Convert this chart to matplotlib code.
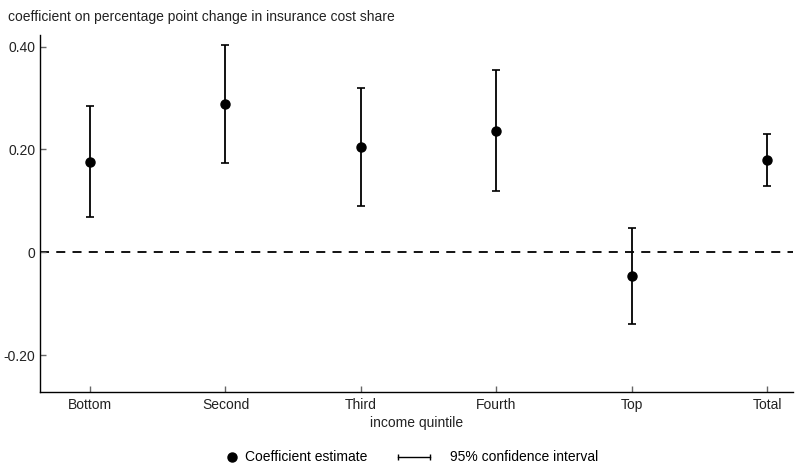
import matplotlib
matplotlib.use("Agg")
import matplotlib.pyplot as plt
from matplotlib.lines import Line2D
from matplotlib.legend_handler import HandlerLine2D

categories = ["Bottom", "Second", "Third", "Fourth", "Top", "Total"]
estimates = [0.175, 0.288, 0.204, 0.236, -0.047, 0.179]
upper = [0.284, 0.403, 0.319, 0.354, 0.047, 0.230]
lower = [0.068, 0.173, 0.090, 0.119, -0.140, 0.129]
yticks = [-0.20, 0, 0.20, 0.40]
ytick_labels = ["-0.20", "0", "0.20", "0.40"]

plt.rcParams['font.family'] = ['Liberation Sans', 'DejaVu Sans']
FS = 10

fig = plt.figure(figsize=(8, 4.73), dpi=100)
ax = fig.add_axes([0.05, 0.1712, 0.941, 0.755])

x = list(range(len(categories)))
err_lo = [e - l for e, l in zip(estimates, lower)]
err_hi = [u - e for e, u in zip(estimates, upper)]

ax.axhline(0, color='black', lw=1.3, ls=(0, (5, 4)), zorder=1)
ax.errorbar(x, estimates, yerr=[err_lo, err_hi], fmt='none', ecolor='black',
            elinewidth=1.3, capsize=3.2, capthick=1.2, zorder=2)
ax.plot(x, estimates, 'o', color='black', ms=6.5, zorder=3)

ax.set_xlim(-0.369, 5.188)
ax.set_ylim(-0.272, 0.4226)
ax.set_xticks(x)
ax.set_xticklabels(categories, fontsize=FS, color='#222222')
ax.set_yticks(yticks)
ax.set_yticklabels(ytick_labels, fontsize=FS, color='#222222')
ax.tick_params(axis='both', direction='in', length=4, width=1, color='#666666')
ax.tick_params(axis='x', pad=4.5)
ax.spines['top'].set_visible(False)
ax.spines['right'].set_visible(False)
ax.spines['left'].set_linewidth(1)
ax.spines['bottom'].set_linewidth(1)
ax.set_xlabel("income quintile", fontsize=FS, color='#222222', labelpad=3)

fig.text(0.01, 0.964, "coefficient on percentage point change in insurance cost share",
         fontsize=FS, color='#222222', va='center', ha='left')

dot = Line2D([], [], marker='o', color='black', ls='none', ms=6.5)
ci = Line2D([], [], marker='|', color='black', lw=1, ms=5, mew=1)
leg1 = fig.legend([dot], ["Coefficient estimate"], loc='center left',
                  bbox_to_anchor=(0.281, 0.033), frameon=False, fontsize=FS,
                  handlelength=1.0, handletextpad=0.45, borderpad=0, borderaxespad=0,
                  handler_map={dot: HandlerLine2D(numpoints=1)})
leg2 = fig.legend([ci], ["95% confidence interval"], loc='center left',
                  bbox_to_anchor=(0.4975, 0.033), frameon=False, fontsize=FS,
                  handlelength=2.3, handletextpad=1.44, borderpad=0, borderaxespad=0,
                  handler_map={ci: HandlerLine2D(numpoints=2, marker_pad=0.0)})

fig.savefig("out.png", dpi=100)
